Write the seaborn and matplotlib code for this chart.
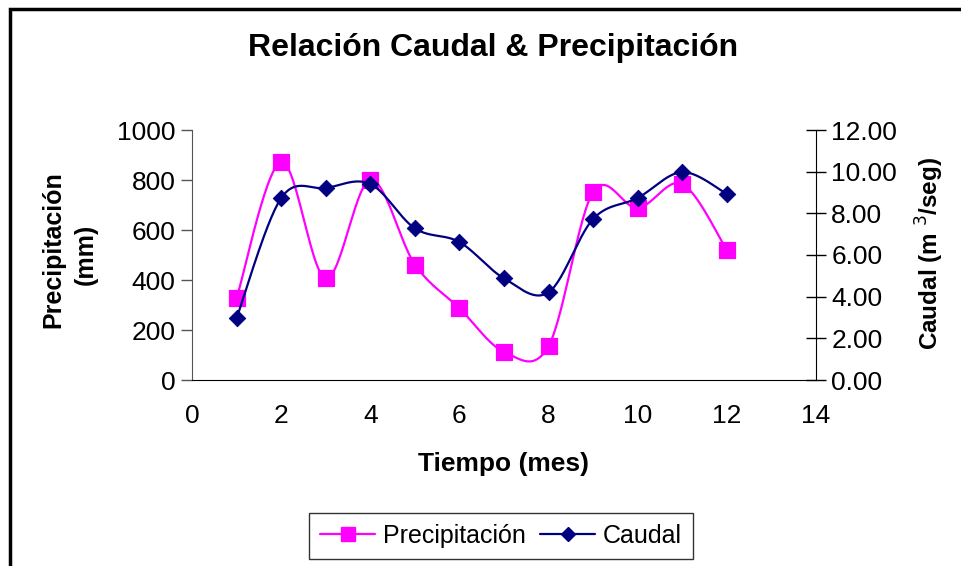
import numpy as np
import pandas as pd
import matplotlib
matplotlib.use("Agg")
import matplotlib.pyplot as plt
from matplotlib.lines import Line2D
from matplotlib.patches import Rectangle
import seaborn as sns

# data
meses = [1, 2, 3, 4, 5, 6, 7, 8, 9, 10, 11, 12]
precipitacion = [327, 872, 407, 800, 462, 287, 113, 136, 752, 688, 784, 520]
caudal = [2.97, 8.73, 9.21, 9.41, 7.28, 6.62, 4.88, 4.21, 7.73, 8.74, 9.98, 8.93]

x_ticks = [0, 2, 4, 6, 8, 10, 12, 14]
prec_ticks = [0, 200, 400, 600, 800, 1000]
caudal_ticks = [0, 2, 4, 6, 8, 10, 12]


# Excel-like smoothed line (Catmull-Rom through the points)
def smooth(xs, ys, n=30):
    p = np.column_stack([xs, ys]).astype(float)
    p = np.vstack([p[0], p, p[-1]])
    out = []
    t = np.linspace(0, 1, n)[:, None]
    for i in range(1, len(p) - 2):
        p0, p1, p2, p3 = p[i - 1], p[i], p[i + 1], p[i + 2]
        c1 = p1 + (p2 - p0) / 6
        c2 = p2 - (p3 - p1) / 6
        seg = ((1 - t) ** 3) * p1 + 3 * ((1 - t) ** 2) * t * c1 + 3 * (1 - t) * t ** 2 * c2 + t ** 3 * p2
        out.append(seg if i == 1 else seg[1:])
    out = np.vstack(out)
    return out[:, 0], out[:, 1]


sns.set_style("white")
plt.rcParams['font.family'] = ['Liberation Sans', 'DejaVu Sans']
plt.rcParams['text.color'] = 'black'
plt.rcParams['xtick.color'] = 'black'
plt.rcParams['ytick.color'] = 'black'

MAG = '#FF00FF'
NAVY = '#000080'

fig = plt.figure(figsize=(9.61, 5.66), dpi=100)
W, H = 961, 566
ax = fig.add_axes([192 / W, 1 - 380 / H, (816 - 192) / W, 250 / H])
ax2 = ax.twinx()

px, py = smooth(meses, precipitacion)
cx, cy = smooth(meses, caudal)

sns.lineplot(x=px, y=py, ax=ax, color=MAG, lw=1.6, sort=False, estimator=None)
sns.scatterplot(x=meses, y=precipitacion, ax=ax, marker='s', s=120, color=MAG, edgecolor=MAG, zorder=3)
sns.lineplot(x=cx, y=cy, ax=ax2, color=NAVY, lw=1.6, sort=False, estimator=None)
sns.scatterplot(x=meses, y=caudal, ax=ax2, marker='D', s=70, color=NAVY, edgecolor=NAVY, zorder=3)

ax.set_xlim(0, 14)
ax.set_ylim(0, 1000)
ax2.set_ylim(0, 12)
ax.set_xticks(x_ticks)
ax.set_yticks(prec_ticks)
ax2.set_yticks(caudal_ticks)
ax2.set_yticklabels([f"{v:.2f}" for v in caudal_ticks])

for a in (ax, ax2):
    a.set_xlabel('')
    a.set_ylabel('')
    a.spines['top'].set_visible(False)
    a.grid(False)
ax.spines['right'].set_visible(False)
ax.spines['left'].set_color('#555555')
ax.spines['bottom'].set_color('black')
ax2.spines['left'].set_visible(False)
ax2.spines['bottom'].set_visible(False)
ax2.spines['right'].set_color('black')

ax.tick_params(axis='x', direction='out', length=8, width=1, color='#555555', labelsize=19, pad=9,
               labelcolor='black')
ax.tick_params(axis='y', direction='out', length=8, width=1, color='#555555', labelsize=19, pad=4,
               labelcolor='black')
ax2.tick_params(axis='y', direction='inout', length=14, width=1, color='black', labelsize=19, pad=4,
                labelcolor='black')

fig.text(493 / W, 1 - 48 / H, 'Relación Caudal & Precipitación', ha='center', va='center',
         fontsize=23, fontweight='bold')
fig.text(503 / W, 1 - 464 / H, 'Tiempo (mes)', ha='center', va='center', fontsize=19, fontweight='bold')
fig.text(53 / W, 1 - 250 / H, 'Precipitación', ha='center', va='center', rotation=90,
         fontsize=18, fontweight='bold')
fig.text(86 / W, 1 - 254 / H, '(mm)', ha='center', va='center', rotation=90,
         fontsize=18, fontweight='bold')
fig.text(930 / W, 1 - 253 / H, 'Caudal (m $^{3}$/seg)', ha='center', va='center', rotation=90,
         fontsize=17.5, fontweight='bold')

handles = [Line2D([], [], color=MAG, lw=1.6, marker='s', markersize=10),
           Line2D([], [], color=NAVY, lw=1.6, marker='D', markersize=7)]
leg = fig.legend(handles, ['Precipitación', 'Caudal'], loc='center', ncol=2,
                 bbox_to_anchor=(501 / W, 1 - 536 / H), fontsize=18, frameon=True, fancybox=False,
                 handlelength=2.2, handletextpad=0.3, columnspacing=0.6, borderpad=0.45)
leg.get_frame().set_edgecolor('black')
leg.get_frame().set_linewidth(1)

# outer chart border (only top and left visible in the reference)
fig.patches.append(Rectangle((9.5 / W, -0.1), 1.2, 1.1 - 9.5 / H, transform=fig.transFigure,
                             fill=False, ec='black', lw=2.5))

fig.savefig('out.png', dpi=100)
